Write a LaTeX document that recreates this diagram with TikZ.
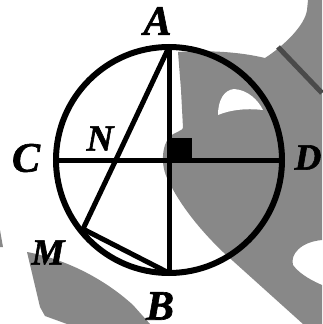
\documentclass[tikz,border=0pt]{standalone}
\usepackage{fontspec}
\setmainfont{Liberation Serif}
\newfontfamily\lblfont[FakeBold=1.5]{Liberation Serif Bold Italic}
\begin{document}
\begin{tikzpicture}[x=1pt,y=-1pt,
  lbl/.style={font=\fontsize{42}{42}\lblfont, inner sep=0pt},
  lbls/.style={font=\fontsize{37}{37}\lblfont, inner sep=0pt},
  geo/.style={line width=5pt, line join=round, line cap=round}]
\useasboundingbox (0,0) rectangle (322,324);
\definecolor{wm}{HTML}{888888}
\definecolor{wmdark}{HTML}{4A4A4A}
% background watermark shapes
\fill[wm] (178,52) .. controls (210,50) and (240,52) .. (265,58)
  .. controls (285,45) and (305,25) .. (307,10) -- (308,0) -- (322,0) -- (322,240)
  .. controls (300,242) and (290,255) .. (293,265)
  .. controls (300,275) and (315,282) .. (322,285) -- (322,324) -- (303,324)
  -- (223,252) .. controls (200,230) and (180,205) .. (168,180)
  .. controls (160,165) and (162,145) .. (170,136)
  .. controls (176,132) and (183,130) .. (183,128)
  -- (181,90) -- cycle;
\fill[white] (218,115) .. controls (218,100) and (224,90) .. (234,89)
  .. controls (248,90) and (258,100) .. (263,110)
  .. controls (245,108) and (230,110) .. (218,115) -- cycle;
\draw[wmdark, line width=5pt] (278,47) -- (322,93);
\fill[wm] (27,252) .. controls (60,258) and (100,275) .. (133,305)
  -- (150,324) -- (67,324) -- (45,316) -- (40,307) -- cycle;
\fill[wm] (0,230) -- (3,247) -- (0,247) -- cycle;
% geometry
\coordinate (O) at (169,160);
\coordinate (A) at (169,47);
\coordinate (B) at (169,273);
\coordinate (C) at (56,160);
\coordinate (D) at (282,160);
\coordinate (M) at (83,229);
\coordinate (N) at (115.8,160);
\fill (O) ++(0,-22) rectangle ++(23,22);
\draw[geo] (C) -- (D);
\draw[geo] (A) -- (B);
\draw[geo] (A) -- (N) -- (M) -- (B);
\draw[line width=6pt] (O) circle[radius=113];
\node[lbl] (lA) at (157.5,21) {A};
\node[lbl] (lB) at (160,306) {B};
\node[lbl] (lC) at (26,158) {C};
\node[lbls] (lD) at (308,157.5) {D};
\node[lbls] (lN) at (100,138.5) {N};
\node[lbls] (lM) at (48,252.5) {M};
\end{tikzpicture}
\end{document}
